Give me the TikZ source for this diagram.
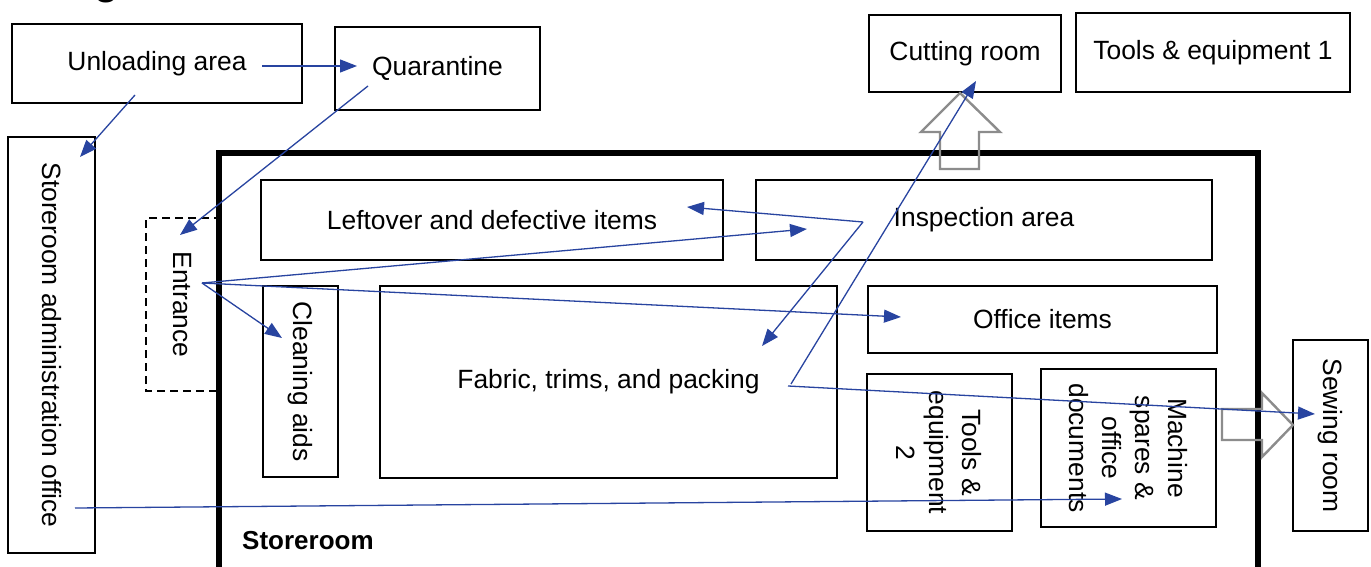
\documentclass[tikz,border=0pt]{standalone}
\usepackage{fontspec}
\setmainfont{Liberation Sans}
\usetikzlibrary{arrows.meta}
\definecolor{flowblue}{RGB}{40,68,160}
\definecolor{blockgray}{RGB}{140,140,140}
\begin{document}
\begin{tikzpicture}[x=1pt,y=-1pt,
  every node/.style={font=\fontsize{26.4}{33}\selectfont},
  room/.style={draw, line width=2.6pt, inner sep=2pt, align=center},
  doorway/.style={draw, dashed, dash pattern=on 8pt off 5pt, line width=2pt, inner sep=2pt},
  wall/.style={draw, line width=5.5pt, inner sep=0pt},
  flow/.style={draw=flowblue, line width=1.3pt, -{Triangle[length=17pt,width=13pt]}},
  block/.style={draw=blockgray, line width=2.4pt, line join=miter}]
\useasboundingbox (0,0) rectangle (1371,567);
\fill[white] (0,0) rectangle (1371,567);

% cut-off heading fragment
\node[font=\bfseries\fontsize{40}{40}\selectfont, anchor=base, inner sep=0pt] (head) at (107,-5) {g};

% storeroom walls
\node[wall, minimum width=1039pt, minimum height=447pt] (store) at (738.5,376.5) {};
\node[font=\bfseries\fontsize{26}{30}\selectfont, anchor=base west, inner sep=0pt] (storelbl) at (242,549) {Storeroom};

% outside rooms
\node[room, minimum width=290pt, minimum height=79pt] (unload) at (157,63.5) {Unloading area};
\node[room, minimum width=205pt, minimum height=83pt] (quar) at (437.5,68.5) {Quarantine};
\node[room, minimum width=192pt, minimum height=77pt] (cut) at (965,53.5) {Cutting room};
\node[room, minimum width=274pt, minimum height=79pt] (tools1) at (1213,52.5) {Tools \& equipment 1};
\node[room, rotate=-90, minimum width=416pt, minimum height=87pt] (admin) at (51.5,345) {Storeroom administration office};
\node[room, rotate=-90, minimum width=191pt, minimum height=75pt] (sew) at (1330.5,435.5) {Sewing room};
\node[doorway, rotate=-90, minimum width=173pt, minimum height=72pt] (entr) at (182,304.5) {Entrance};

% inside rooms
\node[room, minimum width=462pt, minimum height=80pt] (left) at (492,220) {Leftover and defective items};
\node[room, minimum width=456pt, minimum height=80pt] (insp) at (984,220) {Inspection area};
\node[room, rotate=-90, minimum width=191pt, minimum height=75pt] (clean) at (300.5,381.5) {Cleaning aids};
\node[room, minimum width=457pt, minimum height=192pt] (fabric) at (608.5,382) {Fabric, trims, and packing};
\node[room, minimum width=349pt, minimum height=67pt] (office) at (1042.5,319.5) {Office items};
\node[room, rotate=-90, minimum width=157pt, minimum height=145pt] (tools2) at (939.5,452.5) {Tools \&\\equipment\\2};
\node[room, rotate=-90, minimum width=158pt, minimum height=175pt] (mach) at (1128.5,448) {Machine\\spares \&\\office\\documents};

% gray block arrows
\draw[block] (940,169) -- (940,132) -- (921,132) -- (960,93) -- (1000,132) -- (979,132) -- (979,169) -- cycle;
\draw[block] (1222,409) -- (1262,409) -- (1262,393) -- (1293,425) -- (1262,457) -- (1262,440) -- (1222,440) -- cycle;

% flows
\draw[flow] ([shift={(105,2.5)}]unload.center) -- ([shift={(-80.5,-2.5)}]quar.center);
\draw[flow] ([shift={(-22,31.5)}]unload.center) -- ([shift={(28.5,-188)}]admin.center);
\draw[flow] ([shift={(-69.5,17.5)}]quar.center) -- ([shift={(-2,-69.5)}]entr.center);
\draw[flow] ([shift={(20,-21.5)}]entr.center) -- ([shift={(-177,9)}]insp.center);
\draw[flow] ([shift={(20,-21.5)}]entr.center) -- ([shift={(-141.5,-2.5)}]office.center);
\draw[flow] ([shift={(20,-21.5)}]entr.center) -- ([shift={(-18.5,-43.5)}]clean.center);
\draw[flow] ([shift={(-121,2)}]insp.center) -- ([shift={(195,-13)}]left.center);
\draw[flow] ([shift={(-121,2)}]insp.center) -- ([shift={(153.5,-36)}]fabric.center);
\draw[flow] ([shift={(182.5,2)}]fabric.center) -- ([shift={(11,27.5)}]cut.center);
\draw[flow] ([shift={(179.5,4)}]fabric.center) -- ([shift={(-15.5,-21.5)}]sew.center);
\draw[flow] ([shift={(23.5,163)}]admin.center) -- ([shift={(-6.5,51)}]mach.center);
\end{tikzpicture}
\end{document}
